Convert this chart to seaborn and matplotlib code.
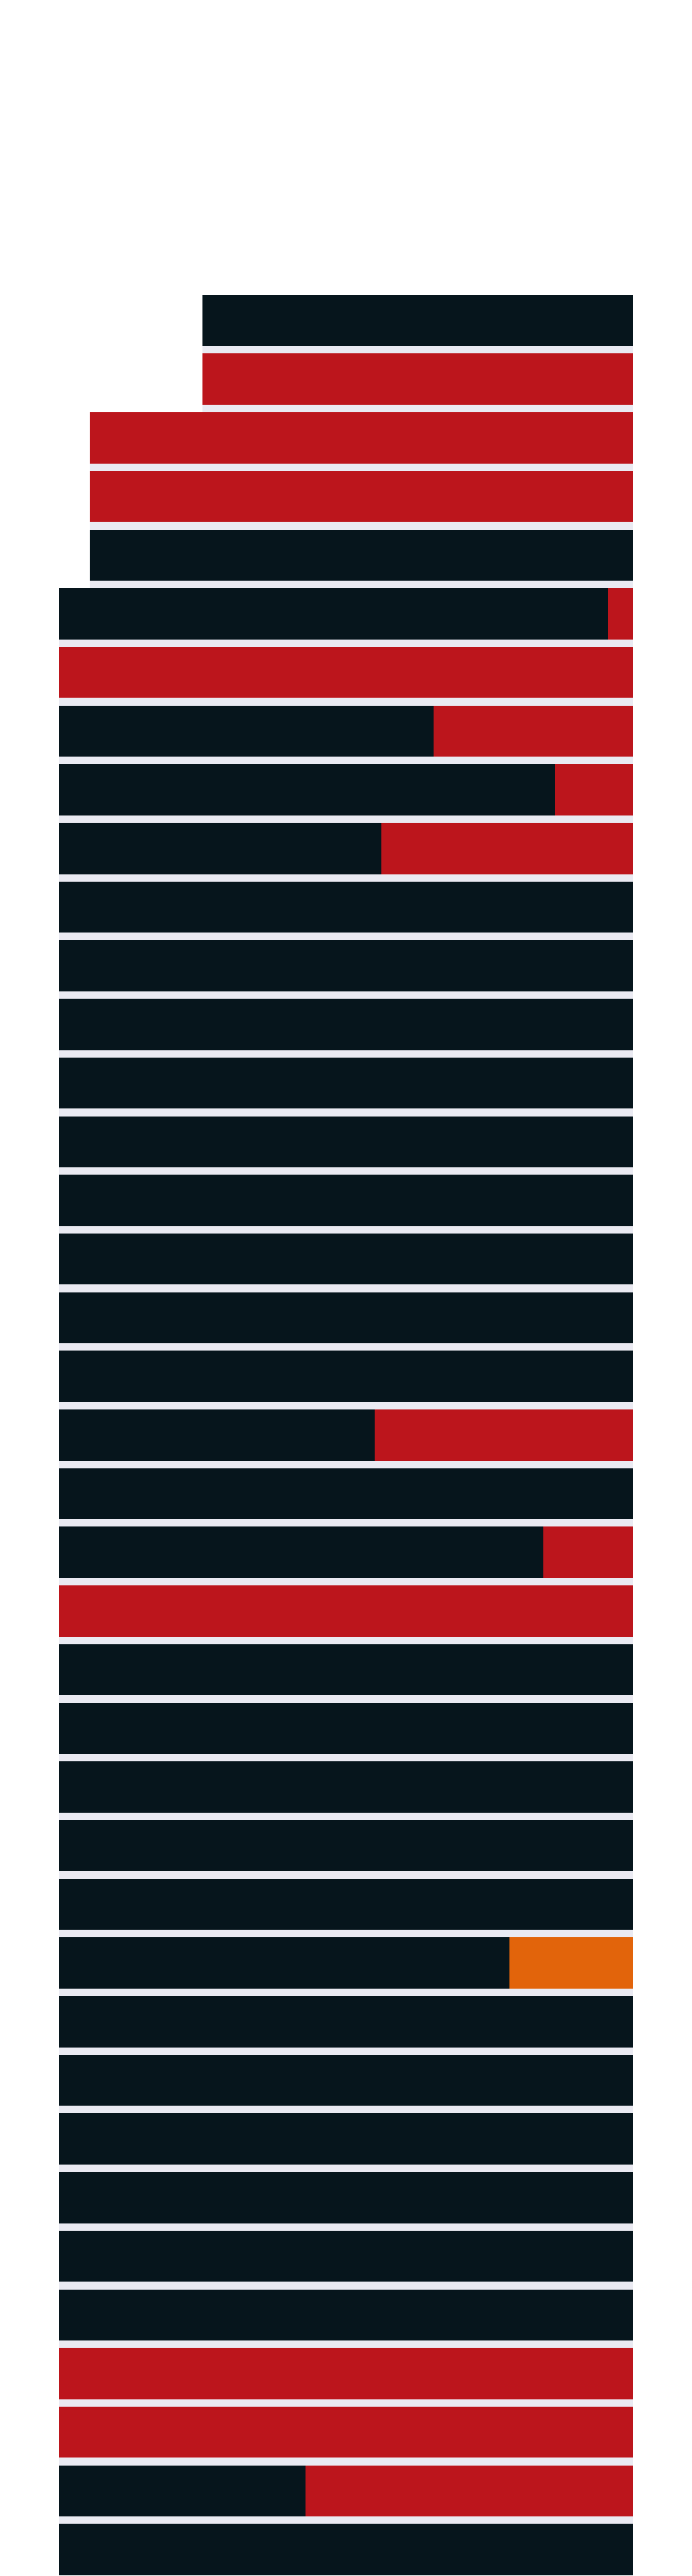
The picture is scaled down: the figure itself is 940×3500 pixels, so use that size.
import numpy as np
import pandas as pd
import matplotlib.pyplot as plt
import seaborn as sns

# one value per row, in percent of the full bar width
dark = [75, 0, 0, 0, 94.6, 95.6, 0, 65.2, 86.4, 56.1,
        100, 100, 100, 100, 100, 100, 100, 100, 100,
        55.0, 100, 84.4, 0,
        100, 100, 100, 100, 100,
        78.5,
        100, 100, 100, 100, 100, 100,
        0, 0, 42.9, 100]
red = [0, 75, 94.6, 94.6, 0, 4.4, 100, 34.8, 13.6, 43.9,
       0, 0, 0, 0, 0, 0, 0, 0, 0,
       45.0, 0, 15.6, 100,
       0, 0, 0, 0, 0,
       0,
       0, 0, 0, 0, 0, 0,
       100, 100, 57.1, 0]
orange = [0] * 28 + [21.5] + [0] * 10

DARK = "#06151c"
RED = "#bc151c"
ORANGE = "#e2640b"
GAP = "#eaeaf2"

sns.set_style("white")

df = pd.DataFrame({"row": np.arange(len(dark)), "dark": dark, "red": red, "orange": orange})
df["total"] = df["dark"] + df["red"] + df["orange"]

# light strips between neighbouring rows, only as wide as both rows
tot = df["total"].to_numpy()
gaps = pd.DataFrame({"pos": df["row"].to_numpy()[:-1] + 0.5,
                     "width": np.minimum(tot[:-1], tot[1:])})

fig = plt.figure(figsize=(9.4, 35), dpi=100)
ax = fig.add_axes([80 / 940, 0, 780 / 940, 1])

common = dict(orient="y", native_scale=True, errorbar=None, linewidth=0, saturation=1, ax=ax)
sns.barplot(data=gaps, x="width", y="pos", width=0.3, color=GAP, **common)
sns.barplot(data=df, x="total", y="row", width=0.872, color=DARK, **common)
sns.barplot(data=df, x="red", y="row", width=0.872, color=RED, **common)
sns.barplot(data=df, x="orange", y="row", width=0.872, color=ORANGE, **common)

ax.set_xlim(100, 0)
ax.set_ylim(38.45, -5.464)
ax.axis("off")

fig.savefig("out.png", dpi=100, facecolor="white")
plt.close(fig)
